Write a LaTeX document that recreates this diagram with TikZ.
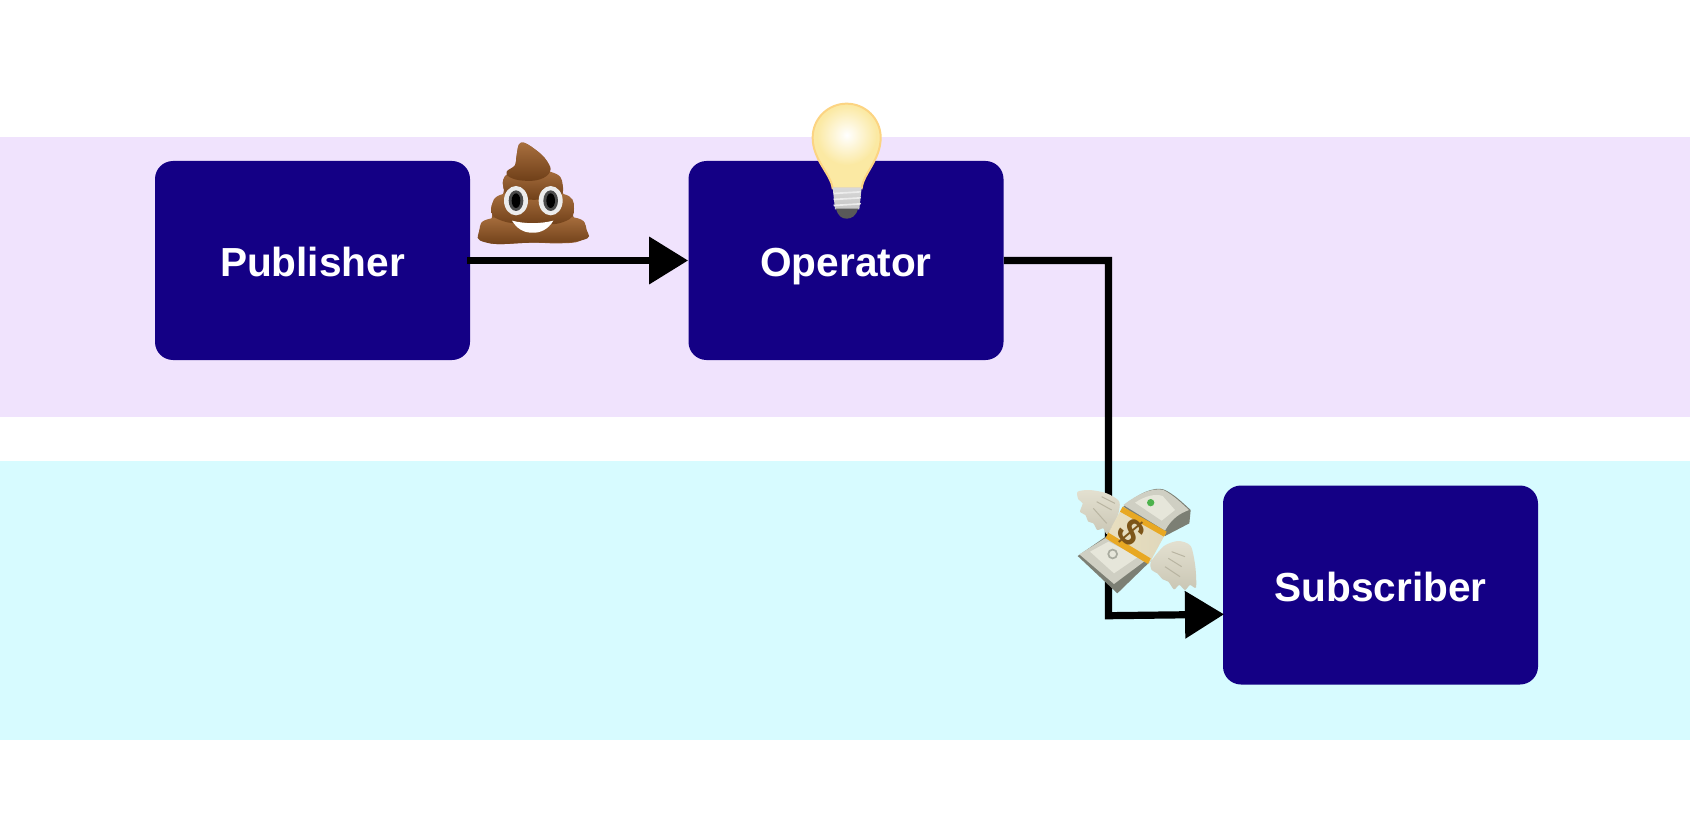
\documentclass[tikz,border=0pt]{standalone}
\usepackage{fontspec}
\setmainfont{Liberation Sans}
\usetikzlibrary{arrows.meta}
\definecolor{bandP}{HTML}{F0E3FD}
\definecolor{bandC}{HTML}{D7FBFF}
\definecolor{boxC}{HTML}{140085}
\definecolor{brL}{HTML}{A9703F}
\definecolor{brD}{HTML}{6F3F18}
\definecolor{bglow}{HTML}{FBE9A3}
\definecolor{grayL}{HTML}{CFCFC3}
\definecolor{grayM}{HTML}{A9AB9F}
\definecolor{grayD}{HTML}{7C7F74}
\definecolor{faceL}{HTML}{E6E6DA}
\definecolor{wing}{HTML}{E3E0D0}
\definecolor{wingD}{HTML}{B9B5A2}
\definecolor{paper}{HTML}{E9DFC0}
\definecolor{strap}{HTML}{E8A823}
\tikzset{
  actor/.style={draw=none,fill=boxC,rounded corners=9pt,minimum width=157.5pt,minimum height=99.5pt,inner sep=0pt,text=white,text height=16.3pt,text depth=0.3pt,font=\fontsize{20.3}{24}\selectfont\bfseries},
  link/.style={draw=black,line width=3.6pt,line join=miter,-{Triangle[length=19.5pt,width=23pt]}},
  tier/.style={top color=brL,bottom color=brD,draw=none},
}
\begin{document}
\begin{tikzpicture}[x=0.5pt,y=-0.5pt]
\useasboundingbox (0,0) rectangle (1690,834);
\fill[white] (0,0) rectangle (1690,834);
\fill[bandP] (0,137) rectangle (1690,417);
\fill[bandC] (0,461) rectangle (1690,740);
\node[actor] (pub) at (312.5,260.5) {Publisher};
\node[actor] (op) at (846,260.5) {Operator};
\node[actor] (sub) at (1380.5,585) {Subscriber};
\coordinate (elbow) at (1108.5,615.7);
\coordinate (subin) at (1224,614.3);
\draw[link,shorten <=-1.5pt] (pub.east) -- (op.west);
\draw[link] (op.east) -- (op.east -| elbow) -- (elbow) -- (subin);
% poop emoji
\begin{scope}[shift={(460,90)},scale=1/3]
\fill[brL!60!brD] plot[smooth cycle,tension=.7] coordinates {(183,158)(225,178)(262,215)(270,255)(305,278)(310,312)(340,340)(340,380)(378,420)(362,452)(300,460)(215,458)(110,462)(70,450)(58,420)(95,385)(95,345)(130,310)(130,268)(168,232)(170,195)};
\shade[top color=brL,bottom color=brD] plot[smooth cycle,tension=.9] coordinates {(58,422)(95,385)(215,392)(340,382)(380,420)(360,452)(215,458)(80,458)};
\shade[tier] plot[smooth cycle,tension=.9] coordinates {(95,355)(130,312)(220,325)(310,312)(342,355)(310,396)(220,400)(125,392)};
\shade[tier] plot[smooth cycle,tension=.9] coordinates {(130,280)(165,245)(270,245)(308,285)(280,322)(165,322)};
\shade[tier] plot[smooth cycle,tension=.7] coordinates {(183,158)(225,178)(262,215)(270,245)(240,268)(190,272)(150,262)(140,245)(165,225)(170,195)};
\foreach \ex in {168,272}{
  \fill[white!85!gray] (\ex,332) ellipse (36 and 44);
  \fill[black!70] (\ex,332) ellipse (22 and 31);
  \fill[black] (\ex,332) ellipse (13 and 22);
}
\fill[white] (156,392) .. controls (195,402) and (240,402) .. (280,392) .. controls (265,418) and (240,430) .. (215,428) .. controls (190,428) and (170,415) .. (156,392) -- cycle;
\end{scope}
% bulb emoji
\begin{scope}[shift={(460,90)},scale=1/3]
\fill[bglow,draw=bglow!80!orange,line width=1pt] (1118,295) .. controls (1112,250) and (1058,210) .. (1058,143) .. controls (1058,85) and (1105,41) .. (1160,41) .. controls (1215,41) and (1262,85) .. (1262,143) .. controls (1262,210) and (1210,250) .. (1205,295) -- cycle;
\shade[inner color=white,outer color=bglow] (1160,135) circle (90);
\shade[top color=white!70!gray,bottom color=white!55!gray] (1118,292) -- (1205,292) -- (1198,358) -- (1125,358) -- cycle;
\foreach \by in {308,326,344}{\fill[white!85!gray] (1120,\by) -- (1203,\by-5) -- (1201,\by) -- (1122,\by+5) -- cycle;}
\fill[black!65] (1128,356) -- (1194,356) .. controls (1188,378) and (1175,386) .. (1160,386) .. controls (1145,386) and (1134,378) .. (1128,356) -- cycle;
\end{scope}
% money with wings emoji
\begin{scope}[shift={(1040,460)},scale=1/3]
% left wing
\shade[top color=wing,bottom color=wingD!60!wing] plot[smooth cycle,tension=.45] coordinates {(113,95)(150,90)(200,100)(238,125)(232,170)(202,222)(190,205)(172,210)(160,190)(145,185)(136,165)(120,155)(128,130)(115,118)};
\draw[wingD,line width=.5pt] (170,125) -- (215,150) (185,110) -- (225,130) (160,145) -- (200,190);
% lower bills
\fill[grayD] (113,288) -- (232,400) -- (335,300) -- (200,228) -- cycle;
\fill[grayL] (118,283) -- (222,372) -- (325,295) -- (200,232) -- cycle;
\fill[faceL] (150,275) -- (222,340) -- (295,290) -- (205,245) -- cycle;
\fill[grayM] (218,282) circle (16);
\fill[faceL] (218,282) circle (10);
% upper bills
\fill[grayD] (250,140) .. controls (295,100) and (340,80) .. (370,88) .. controls (400,100) and (430,130) .. (452,150) -- (448,190) -- (375,228) -- cycle;
\fill[grayL] (250,135) .. controls (295,100) and (340,82) .. (370,90) .. controls (400,105) and (425,130) .. (447,150) .. controls (420,160) and (395,175) .. (375,212) -- cycle;
\fill[faceL] (285,128) .. controls (315,108) and (345,100) .. (368,108) -- (405,150) -- (365,182) -- cycle;
\fill[green!40!gray] (332,128) circle (11);
% paper band
\shade[left color=paper,right color=paper!85!grayM] (245,145) -- (378,218) -- (328,310) -- (200,228) -- cycle;
\fill[strap] (248,140) -- (380,215) -- (372,230) -- (240,155) -- cycle;
\fill[strap] (205,218) -- (332,295) -- (324,312) -- (197,235) -- cycle;
\node[rotate=-50,text={rgb,255:red,125;green,85;blue,25},font=\fontsize{19}{19}\selectfont\bfseries,inner sep=0pt] (dollar) at (272,217) {\$};
% right wing
\shade[top color=wing,bottom color=wingD!60!wing] plot[smooth cycle,tension=.45] coordinates {(333,305)(372,258)(415,243)(452,258)(466,320)(468,382)(450,375)(435,390)(418,375)(402,388)(385,365)(368,358)(352,340)(335,330)};
\draw[wingD,line width=.5pt] (395,275) -- (435,290) (385,295) -- (425,320) (375,320) -- (420,350);
\end{scope}
\end{tikzpicture}
\end{document}
